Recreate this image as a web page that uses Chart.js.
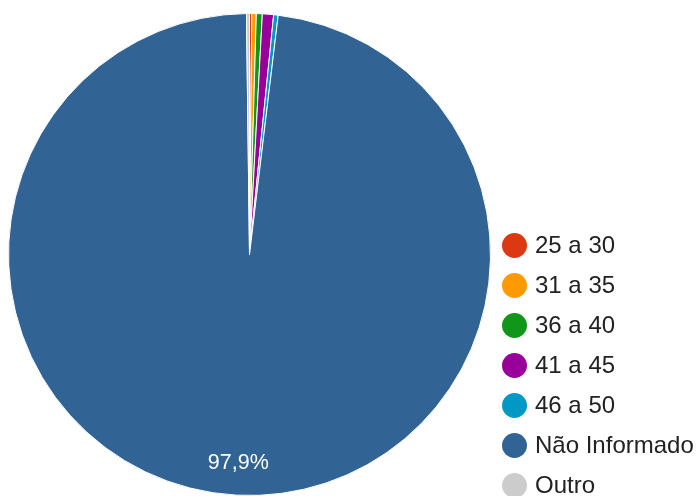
<!DOCTYPE html>
<html>
<head>
<meta charset="utf-8">
<script src="https://cdn.jsdelivr.net/npm/chart.js@4"></script>
<style>
  body { margin: 0; background: #fff; }
  #wrap { position: relative; width: 698px; height: 496px; overflow: hidden; }
  #legend { position: absolute; left: 502px; top: 225px; font-family: Arial, "Liberation Sans", sans-serif; font-size: 24px; color: #222; }
  .item { height: 40px; display: flex; align-items: center; white-space: nowrap; }
  .dot { width: 25px; height: 25px; border-radius: 50%; margin-right: 8px; flex: none; }
</style>
</head>
<body>
<div id="wrap">
  <canvas id="pie" width="698" height="496"></canvas>
  <div id="legend"></div>
</div>
<script>
const labels = ['25 a 30', '31 a 35', '36 a 40', '41 a 45', '46 a 50', 'Não Informado', 'Outro'];
const values = [0.15, 0.3, 0.4, 0.75, 0.3, 97.9, 0.2];
const colors = ['#dc3912', '#ff9900', '#109618', '#990099', '#0099c6', '#316395', '#cccccc'];

// legend built from the same arrays
const legend = document.getElementById('legend');
labels.forEach((l, i) => {
  const row = document.createElement('div');
  row.className = 'item';
  row.innerHTML = '<span class="dot" style="background:' + colors[i] + '"></span><span>' + l + '</span>';
  legend.appendChild(row);
});

// percentage label on big slices, like the original
const sliceLabels = {
  id: 'sliceLabels',
  afterDatasetsDraw(chart) {
    const ctx = chart.ctx;
    const data = chart.data.datasets[0].data;
    const total = data.reduce((a, b) => a + b, 0);
    chart.getDatasetMeta(0).data.forEach((arc, i) => {
      const pct = data[i] / total * 100;
      if (pct < 5) return;
      const p = arc.getProps(['x', 'y', 'startAngle', 'endAngle', 'outerRadius']);
      const mid = (p.startAngle + p.endAngle) / 2;
      const r = p.outerRadius * 0.868;
      ctx.save();
      ctx.fillStyle = '#fff';
      ctx.font = '21.5px Arial, "Liberation Sans", sans-serif';
      ctx.textAlign = 'center';
      ctx.textBaseline = 'middle';
      ctx.fillText(pct.toFixed(1).replace('.', ',') + '%', p.x + Math.cos(mid) * r, p.y + Math.sin(mid) * r);
      ctx.restore();
    });
  }
};

new Chart(document.getElementById('pie').getContext('2d'), {
  type: 'pie',
  data: {
    labels,
    datasets: [{
      data: values,
      backgroundColor: colors,
      borderColor: '#fff',
      borderWidth: 1
    }]
  },
  options: {
    responsive: false,
    animation: false,
    layout: { padding: { left: 0, right: 199, top: 13, bottom: 0 } },
    plugins: {
      legend: { display: false },
      tooltip: { enabled: false }
    }
  },
  plugins: [sliceLabels]
});
</script>
</body>
</html>
